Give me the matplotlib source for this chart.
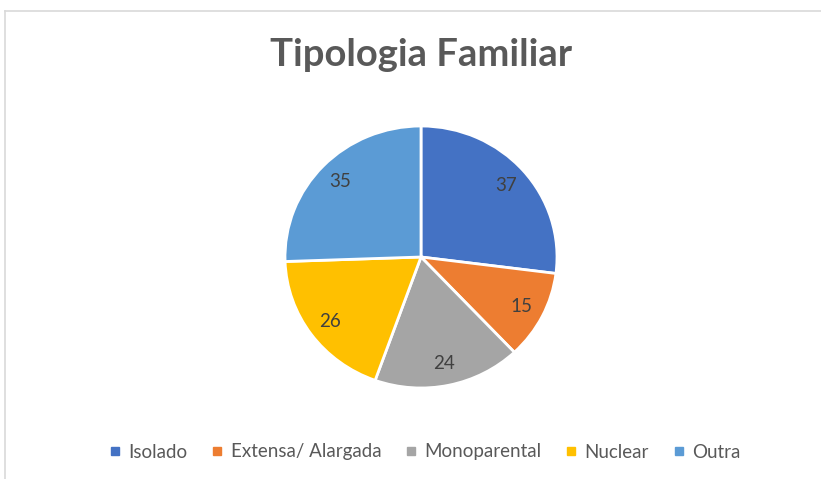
import matplotlib
matplotlib.use("Agg")
import matplotlib.pyplot as plt
from matplotlib.lines import Line2D

categories = ["Isolado", "Extensa/ Alargada", "Monoparental", "Nuclear", "Outra"]
values = [37, 15, 24, 26, 35]
colors = ["#4472C4", "#ED7D31", "#A5A5A5", "#FFC000", "#5B9BD5"]
title = "Tipologia Familiar"

FONT = ["Lato", "DejaVu Sans"]
plt.rcParams["font.family"] = FONT

W, H = 821, 479
fig = plt.figure(figsize=(W / 100, H / 100), dpi=100)
fig.patch.set_facecolor("white")

# pie axes: center (421,257) px, radii 136 x 131 px
cx, cy, rx, ry = 421, 257, 136, 131
ax = fig.add_axes([(cx - rx) / W, (H - cy - ry) / H, 2 * rx / W, 2 * ry / H])
wedges, texts = ax.pie(values, colors=colors, startangle=90, counterclock=False,
                       labels=[str(v) for v in values], labeldistance=0.83,
                       wedgeprops=dict(edgecolor="white", linewidth=2),
                       textprops=dict(color="#404040", fontsize=13.5, ha="center", va="center"))
for t in texts:
    t.set_horizontalalignment("center")
ax.set_xlim(-1.0, 1.0)
ax.set_ylim(-1.0, 1.0)
ax.set_aspect("auto")
ax.axis("off")

fig.text(cx / W, 1 - 55 / H, title, ha="center", va="center", fontsize=27.5,
         fontweight="bold", color="#595959")

handles = [Line2D([0], [0], marker="s", linestyle="none", markersize=6,
                  markerfacecolor=c, markeredgecolor=c) for c in colors]
fig.legend(handles, categories, loc="center", bbox_to_anchor=(425 / W, 1 - 452 / H),
           ncol=5, frameon=False, fontsize=13.5, labelcolor="#595959",
           handlelength=0.6, handletextpad=0.4, columnspacing=1.3)

# chart frame lines
fig.add_artist(Line2D([5 / W, 5 / W], [0, 1 - 11 / H], color="#D9D9D9", lw=1.2))
fig.add_artist(Line2D([5 / W, 1], [1 - 11 / H, 1 - 11 / H], color="#D9D9D9", lw=1.2))

fig.savefig("out.png", dpi=100, facecolor="white")
